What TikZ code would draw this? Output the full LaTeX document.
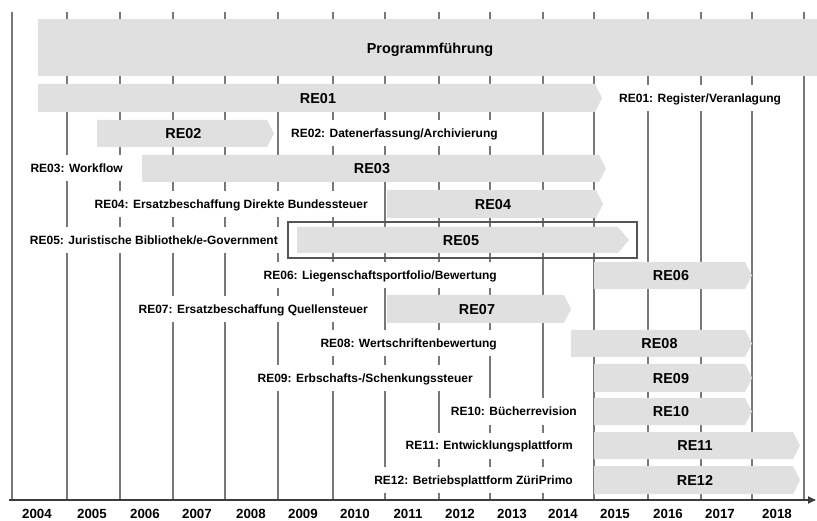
\documentclass[tikz,border=0pt]{standalone}
\usepackage{fontspec}
\setmainfont{Liberation Sans}
\usetikzlibrary{arrows.meta}
\definecolor{barfill}{RGB}{224,224,224}
\definecolor{gridc}{RGB}{120,120,120}
\definecolor{axisc}{RGB}{60,60,60}
\definecolor{boxc}{RGB}{85,85,85}
\newcommand{\rebar}[7]{% name, x0, xtip, ytop, ybottom, depth, label
  \fill[barfill] (#2,#4) -- ({#3-#6},#4) -- (#3,{(#4+#5)/2}) -- ({#3-#6},#5) -- (#2,#5) -- cycle;
  \node[bartext] (#1) at ({(#2+#3)/2-2},{(#4+#5)/2}) {#7};}
\begin{document}
\begin{tikzpicture}[x=1pt,y=-1pt,
  bartext/.style={font=\fontsize{14.4}{16}\selectfont\bfseries, inner sep=0pt, text height=10.3pt, text depth=0pt},
  desc/.style={font=\fontsize{12}{14}\selectfont\bfseries, fill=white, inner xsep=3pt, inner ysep=0pt, text height=8.6pt, text depth=0pt, minimum height=26pt},
  yeartext/.style={font=\fontsize{13.3}{15}\selectfont\bfseries, inner sep=0pt, text height=9.6pt, text depth=0pt},
  gridline/.style={draw=gridc, line width=1.2pt}]
\useasboundingbox (0,0) rectangle (817,521);
% grid lines
\foreach \x in {67,120,173,225,278,333,385,439,490,543,594,648,701,752,804}
  \draw[gridline] (\x,12) -- (\x,500);
% programme management
\fill[barfill] (38,19) rectangle (817,76);
\node[bartext] (prog) at (430,48) {Programmführung};
% bars
\rebar{re01}{38}{602}{84}{112}{7}{RE01}
\rebar{re02}{97}{274}{120}{147}{7}{RE02}
\rebar{re03}{142}{606}{155}{182}{7}{RE03}
\rebar{re04}{387}{603}{190}{218}{7}{RE04}
\rebar{re05}{297}{629}{227}{253}{11}{RE05}
\rebar{re06}{594}{752}{262}{289}{7}{RE06}
\rebar{re07}{387}{571}{295}{323}{7}{RE07}
\rebar{re08}{571}{752}{330}{357}{7}{RE08}
\rebar{re09}{594}{752}{364}{392}{7}{RE09}
\rebar{re10}{594}{752}{398}{425}{7}{RE10}
\rebar{re11}{594}{800}{432}{459}{7}{RE11}
\rebar{re12}{594}{800}{466}{494}{7}{RE12}
\draw[boxc, line width=2pt] (288,222) rectangle (637,258);
% descriptions
\node[desc, anchor=west] (d01) at (616,98) {RE01: Register/Veranlagung};
\node[desc, anchor=west] (d02) at (288,133.5) {RE02: Datenerfassung/Archivierung};
\node[desc, anchor=east] (d03) at (126,168.5) {RE03: Workflow};
\node[desc, anchor=east] (d04) at (371,204) {RE04: Ersatzbeschaffung Direkte Bundessteuer};
\node[desc, anchor=east] (d05) at (281,240.5) {RE05: Juristische Bibliothek/e-Government};
\node[desc, anchor=east] (d06) at (500,275.5) {RE06: Liegenschaftsportfolio/Bewertung};
\node[desc, anchor=east] (d07) at (371,309) {RE07: Ersatzbeschaffung Quellensteuer};
\node[desc, anchor=east] (d08) at (500,343.5) {RE08: Wertschriftenbewertung};
\node[desc, anchor=east] (d09) at (476,378) {RE09: Erbschafts-/Schenkungssteuer};
\node[desc, anchor=east] (d10) at (580,411.5) {RE10: Bücherrevision};
\node[desc, anchor=east] (d11) at (576,445.5) {RE11: Entwicklungsplattform};
\node[desc, anchor=east] (d12) at (576,480) {RE12: Betriebsplattform ZüriPrimo};
% axes
\draw[gridc, line width=2pt] (12,12) -- (12,500);
\coordinate (axstart) at (9,500);
\coordinate (axend) at (816,500);
\draw[axisc, line width=2pt, -{Triangle[length=8pt,width=7pt]}] (axstart) -- (axend);
% years
\foreach \yr/\x in {2004/37,2005/92,2006/145,2007/197,2008/251,2009/303,2010/355,2011/408,2012/460,2013/512,2014/563,2015/615,2016/668,2017/720,2018/777}
  \node[yeartext] (y\yr) at (\x,513.5) {\yr};
\end{tikzpicture}
\end{document}
